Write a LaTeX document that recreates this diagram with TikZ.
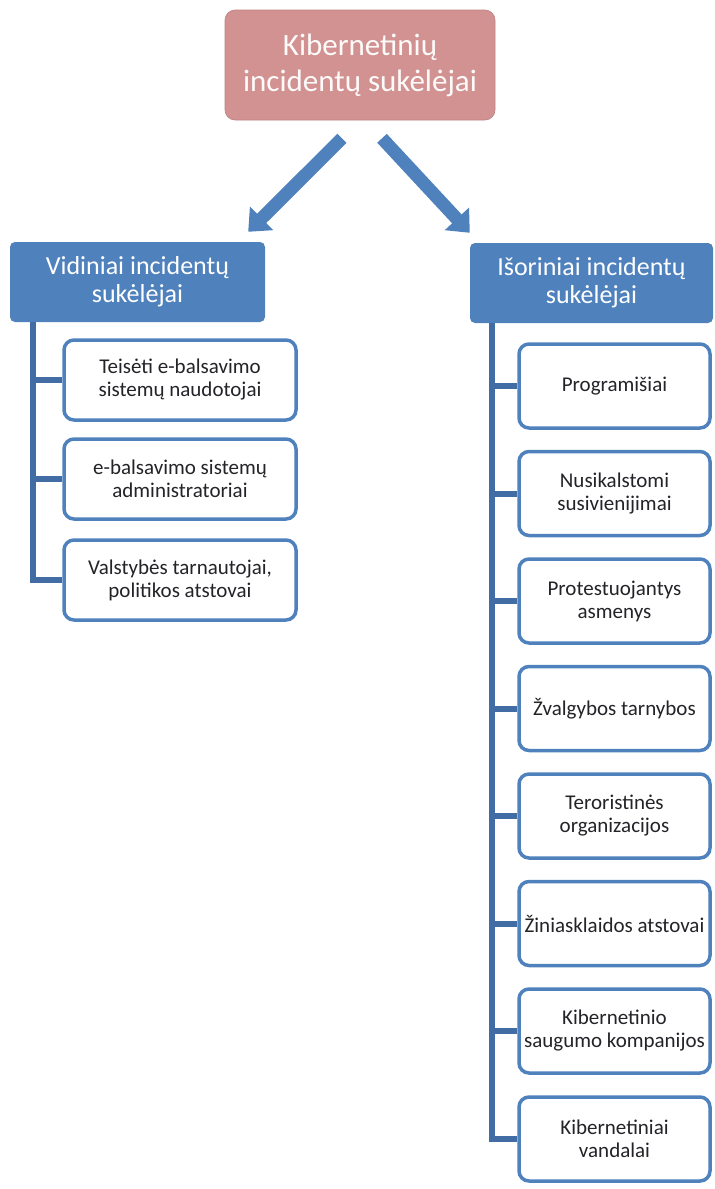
\documentclass[tikz,border=0pt]{standalone}
\usepackage{fontspec}
\setmainfont{Carlito}
\usetikzlibrary{arrows.meta}
\definecolor{pinkbox}{RGB}{210,146,146}
\definecolor{bluebox}{RGB}{79,129,189}
\definecolor{trunkblue}{RGB}{66,108,164}
\definecolor{textdark}{RGB}{35,35,40}
\tikzset{
  titlebox/.style={draw=pinkbox!90!black, line width=0.6pt, fill=pinkbox, rounded corners=10pt,
    minimum width=270pt, minimum height=110pt, align=center, text=white!95!pinkbox,
    font=\fontsize{31}{36}\selectfont},
  groupbox/.style={fill=bluebox, rounded corners=5pt, minimum height=80pt, align=center,
    text=white, font=\fontsize{26}{28}\selectfont},
  leafbox/.style={draw=bluebox, line width=3.5pt, fill=white, rounded corners=10pt,
    align=center, text=textdark, inner sep=0pt, font=\fontsize{21}{23}\selectfont},
  leftleaf/.style={leafbox, minimum width=232pt, minimum height=80pt},
  rightleaf/.style={leafbox, minimum width=191pt, minimum height=84pt},
  trunk/.style={draw=trunkblue, line width=6pt},
  bigarrow/.style={draw=bluebox, line width=13pt, -{Triangle[length=19pt,width=32pt]}}
}
\begin{document}
\begin{tikzpicture}[x=1pt,y=-1pt]
\useasboundingbox (0,0) rectangle (715,1189);
\node[titlebox] (kib) at (360,65) {Kibernetinių\\incidentų sukėlėjai};
\node[groupbox, minimum width=255pt] (vid) at (137.5,282) {Vidiniai incidentų\\sukėlėjai};
\node[groupbox, minimum width=243pt] (isor) at (591.5,283) {Išoriniai incidentų\\sukėlėjai};
\draw[bigarrow] ([xshift=-18pt,yshift=-18pt]kib.south) -- ([xshift=-17pt,yshift=10pt]vid.north east);
\draw[bigarrow] ([xshift=22pt,yshift=-18pt]kib.south) -- ([xshift=0pt,yshift=10pt]isor.north west);
\node[leftleaf] (v1) at (180,380) {Teisėti e-balsavimo\\sistemų naudotojai};
\node[leftleaf] (v2) at (180,479) {e-balsavimo sistemų\\administratoriai};
\node[leftleaf] (v3) at (180,580) {Valstybės tarnautojai,\\politikos atstovai};
\coordinate (vtop) at ([xshift=23pt]vid.south west);
\draw[trunk] (vtop) |- (v3.west);
\draw[trunk] (vtop |- v1.west) -- (v1.west);
\draw[trunk] (vtop |- v2.west) -- (v2.west);
\node[rightleaf] (i1) at (614.5,386) {Programišiai};
\node[rightleaf] (i2) at (614.5,493.5) {Nusikalstomi\\susivienijimai};
\node[rightleaf] (i3) at (614.5,601) {Protestuojantys\\asmenys};
\node[rightleaf] (i4) at (614.5,708.5) {Žvalgybos tarnybos};
\node[rightleaf] (i5) at (614.5,816) {Teroristinės\\organizacijos};
\node[rightleaf] (i6) at (614.5,923.5) {Žiniasklaidos atstovai};
\node[rightleaf] (i7) at (614.5,1031) {Kibernetinio\\saugumo kompanijos};
\node[rightleaf] (i8) at (614.5,1139) {Kibernetiniai\\vandalai};
\coordinate (itop) at ([xshift=22pt]isor.south west);
\draw[trunk] (itop) |- (i8.west);
\foreach \k in {1,...,7}
  \draw[trunk] (itop |- i\k.west) -- (i\k.west);
\end{tikzpicture}
\end{document}
